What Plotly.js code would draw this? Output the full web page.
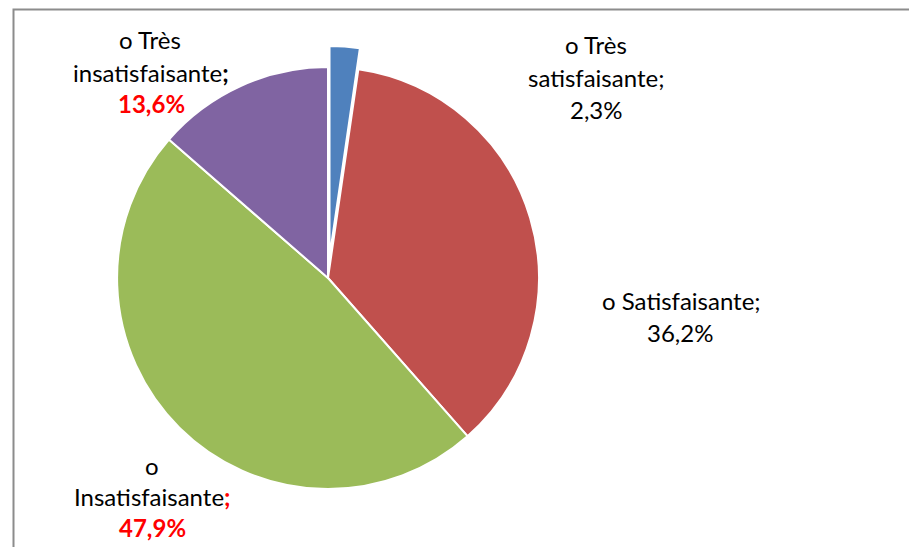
<!DOCTYPE html>
<html>
<head>
<meta charset="utf-8">
<script src="https://cdn.plot.ly/plotly-3.0.1.min.js"></script>
<style>html,body{margin:0;padding:0;background:#fff;}#chart{width:909px;height:547px;}</style>
</head>
<body>
<div id="chart"></div>
<script>
// Data
const categories = ["Très satisfaisante", "Satisfaisante", "Insatisfaisante", "Très insatisfaisante"];
const values = [2.3, 36.2, 47.9, 13.6];
const valueLabels = ["2,3%", "36,2%", "47,9%", "13,6%"];

// Style
const sliceColors = ["#4F81BD", "#C0504D", "#9BBB59", "#8064A2"];
const W = 909, H = 547;
const FONT = "Lato, 'Open Sans', sans-serif";
const fx = px => px / W;
const fy = py => 1 - py / H;

const pie = {
  type: "pie",
  labels: categories,
  values: values,
  sort: false,
  direction: "clockwise",
  rotation: 0,
  pull: [0.1, 0, 0, 0],
  marker: { colors: sliceColors, line: { color: "#ffffff", width: 2 } },
  textinfo: "none",
  hoverinfo: "label+percent",
  showlegend: false,
  domain: { x: [fx(96), fx(560)], y: [fy(510), fy(46)] }
};

const red = "#FF0000";
function ann(text, x, y) {
  return {
    xref: "paper", yref: "paper", x: fx(x), y: fy(y),
    xanchor: "center", yanchor: "middle", showarrow: false,
    text: text, font: { family: FONT, size: 24, color: "#000000" }
  };
}
const annotations = [
  // Très insatisfaisante
  ann("o " + categories[3].split(" ")[0], 150, 40),
  ann(categories[3].split(" ")[1] + "<b>;</b>", 151, 72),
  ann("<b><span style='color:" + red + "'>" + valueLabels[3] + "</span></b>", 151, 104),
  // Très satisfaisante
  ann("o " + categories[0].split(" ")[0], 596, 45),
  ann(categories[0].split(" ")[1] + ";", 596, 77),
  ann(valueLabels[0], 596, 109),
  // Satisfaisante
  ann("o " + categories[1] + ";", 681, 300),
  ann(valueLabels[1], 680, 332),
  // Insatisfaisante
  ann("o", 152, 465),
  ann(categories[2] + "<b><span style='color:" + red + "'>;</span></b>", 152, 496),
  ann("<b><span style='color:" + red + "'>" + valueLabels[2] + "</span></b>", 152, 527)
];

const layout = {
  width: W, height: H,
  margin: { l: 0, r: 0, t: 0, b: 0 },
  paper_bgcolor: "#ffffff",
  plot_bgcolor: "#ffffff",
  font: { family: FONT, size: 24, color: "#000" },
  annotations: annotations,
  shapes: [{
    type: "rect", xref: "paper", yref: "paper",
    x0: fx(13.5), x1: 1.2, y0: -0.2, y1: fy(9.5),
    line: { color: "#8C8C8C", width: 2 }, fillcolor: "rgba(0,0,0,0)"
  }]
};

Plotly.newPlot("chart", [pie], layout, { displayModeBar: false, staticPlot: true });
</script>
</body>
</html>
